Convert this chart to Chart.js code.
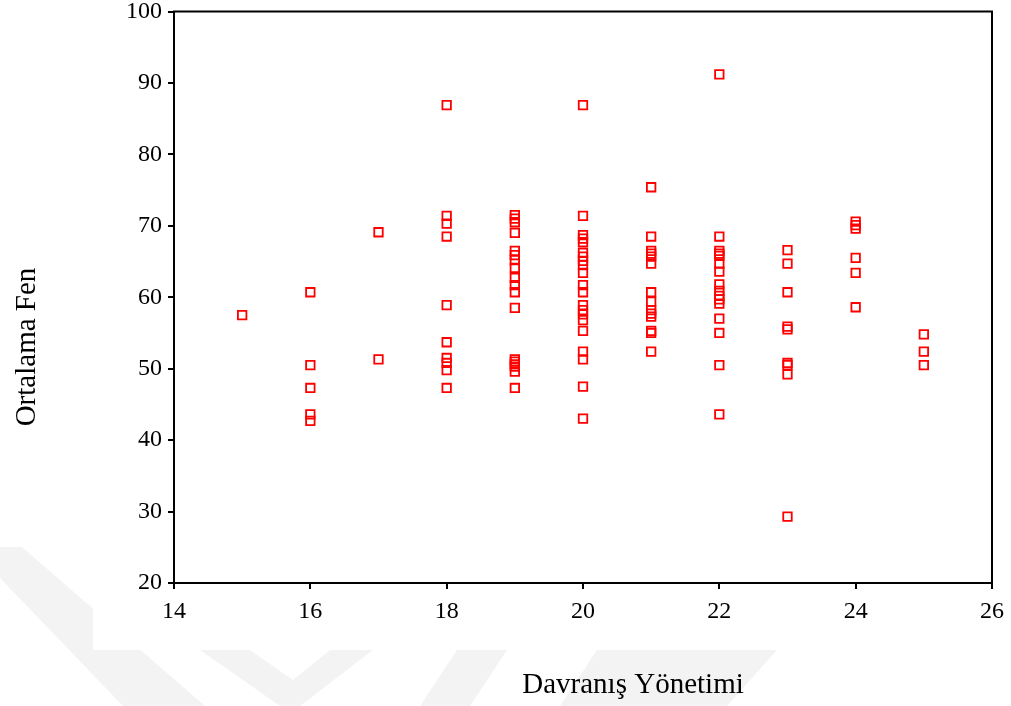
<!DOCTYPE html>
<html>
<head>
<meta charset="utf-8">
<script src="https://cdn.jsdelivr.net/npm/chart.js@4/dist/chart.umd.min.js"></script>
<style>
  html, body { margin: 0; padding: 0; background: #fff; }
  #wrap { width: 1011px; height: 706px; position: relative; }
</style>
</head>
<body>
<div id="wrap"><canvas id="chart"></canvas></div>
<script>
"use strict";

// ── Data: Ortalama Fen per Davranış Yönetimi score ──
const fen15 = [57.5];
const fen16 = [60.7, 50.5, 47.3, 43.6, 42.7];
const fen17 = [69.1, 51.3];
const fen18 = [86.9, 71.4, 70.3, 68.5, 58.9, 53.7, 51.5, 50.8, 49.8, 47.3];
const fen19 = [71.5, 71.0, 70.5, 69.0, 66.5, 65.9, 65.2, 64.1, 62.7, 61.7, 60.7, 58.5,
               51.3, 51.0, 50.6, 50.3, 49.6, 47.3];
const fen20 = [86.9, 71.4, 68.7, 68.2, 67.7, 66.2, 65.7, 65.1, 64.5, 63.4, 61.7, 60.7,
               58.9, 58.2, 57.6, 56.8, 55.3, 52.4, 51.3, 47.5, 43.0];
const fen21 = [75.4, 68.5, 66.5, 66.1, 65.7, 64.7, 60.7, 59.4, 58.2, 57.7, 57.3, 55.3,
               55.0, 52.4];
const fen22 = [91.2, 68.5, 66.5, 66.1, 65.8, 64.7, 63.6, 61.8, 60.9, 60.2, 59.7, 59.1,
               57.0, 55.0, 50.5, 43.6];
const fen23 = [66.6, 64.7, 60.7, 55.9, 55.5, 50.8, 50.5, 49.2, 29.3];
const fen24 = [70.6, 70.1, 69.6, 65.5, 63.4, 58.6];
const fen25 = [54.8, 52.4, 50.5];

const davranis = [15, 16, 17, 18, 19, 20, 21, 22, 23, 24, 25];
const fenColumns = [fen15, fen16, fen17, fen18, fen19, fen20, fen21, fen22, fen23, fen24, fen25];

const xTicks = [14, 16, 18, 20, 22, 24, 26];
const yTicks = [20, 30, 40, 50, 60, 70, 80, 90, 100];

const points = [];
davranis.forEach((d, i) => fenColumns[i].forEach(v => points.push({ x: d, y: v })));

// ── Plugins ──
// faint page watermark behind the figure box
const watermark = {
  id: "watermark",
  beforeDraw(chart) {
    const { ctx } = chart;
    const polys = [
      [[0, 547], [22, 547], [205, 706], [123, 706], [0, 578]],
      [[200, 650], [250, 650], [293, 680], [330, 650], [373, 650], [300, 706], [280, 706]],
      [[457, 650], [507, 650], [470, 706], [420, 706]],
      [[597, 650], [777, 650], [727, 706], [560, 706]],
    ];
    ctx.save();
    ctx.fillStyle = "#f3f3f3";
    polys.forEach(p => {
      ctx.beginPath();
      p.forEach(([x, y], i) => (i ? ctx.lineTo(x, y) : ctx.moveTo(x, y)));
      ctx.closePath();
      ctx.fill();
    });
    ctx.fillStyle = "#fff";
    ctx.fillRect(93, 0, 1011 - 93, 650);
    ctx.restore();
  },
};

const frame = {
  id: "frame",
  afterDatasetsDraw(chart) {
    const { ctx, chartArea: a } = chart;
    ctx.save();
    ctx.strokeStyle = "#000";
    ctx.lineWidth = 2;
    ctx.strokeRect(a.left, a.top, a.right - a.left, a.bottom - a.top);
    ctx.restore();
  },
};

const axisTitles = {
  id: "axisTitles",
  afterDraw(chart) {
    const { ctx } = chart;
    ctx.save();
    ctx.fillStyle = "#000";
    ctx.font = "29px 'Liberation Serif'";
    ctx.textAlign = "center";
    ctx.textBaseline = "middle";
    ctx.fillText("Davranış Yönetimi", 633, 685);
    ctx.translate(27, 347);
    ctx.rotate(-Math.PI / 2);
    ctx.fillText("Ortalama Fen", 0, 0);
    ctx.restore();
  },
};

const tickFont = { family: "'Liberation Serif'", size: 24 };

new Chart(document.getElementById("chart"), {
  type: "scatter",
  data: {
    datasets: [{
      data: points,
      pointStyle: "rect",
      pointRadius: 6,
      pointHoverRadius: 6,
      borderColor: "#ff0000",
      backgroundColor: "rgba(0,0,0,0)",
      borderWidth: 1.8,
    }],
  },
  options: {
    responsive: true,
    maintainAspectRatio: false,
    animation: false,
    layout: { padding: { top: 11.5, right: 19, left: 0, bottom: 0 } },
    plugins: { legend: { display: false }, tooltip: { enabled: false } },
    scales: {
      x: {
        type: "linear",
        min: 14,
        max: 26,
        afterBuildTicks: s => { s.ticks = xTicks.map(v => ({ value: v })); },
        afterFit: s => { s.height = 706 - 583; s.paddingLeft = 0; s.paddingRight = 0; },
        ticks: { color: "#000", font: tickFont, padding: 8, maxRotation: 0 },
        grid: { drawOnChartArea: false, drawTicks: true, tickLength: 6, color: "#000", lineWidth: 2 },
        border: { display: true, color: "#000", width: 2 },
      },
      y: {
        type: "linear",
        min: 20,
        max: 100,
        afterBuildTicks: s => { s.ticks = yTicks.map(v => ({ value: v })); },
        afterFit: s => { s.width = 174; s.paddingTop = 0; s.paddingBottom = 0; },
        ticks: { color: "#000", font: tickFont, padding: 6 },
        grid: { drawOnChartArea: false, drawTicks: true, tickLength: 6, color: "#000", lineWidth: 2 },
        border: { display: true, color: "#000", width: 2 },
      },
    },
  },
  plugins: [watermark, frame, axisTitles],
});
</script>
</body>
</html>
